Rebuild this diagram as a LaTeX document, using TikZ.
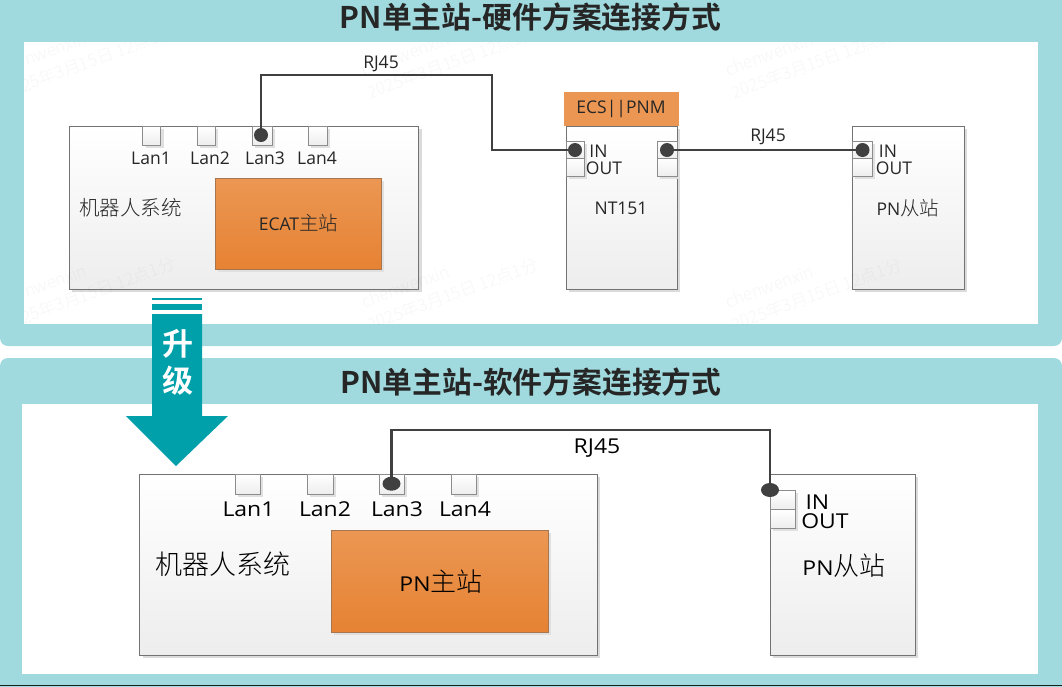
\documentclass[tikz,border=0pt]{standalone}
\usepackage{fontspec}
\setmainfont{Open Sans}
\newfontfamily\wide[FakeStretch=1.12]{Open Sans}
\newfontfamily\cjk{Noto Sans CJK SC Light}
\newfontfamily\cjkb{Noto Sans CJK SC Bold}
\usetikzlibrary{shadows,shapes.geometric}
\definecolor{panel}{HTML}{A0DADE}
\definecolor{arrowc}{HTML}{00A0AB}
\definecolor{inkc}{HTML}{262626}
\definecolor{wirec}{HTML}{404040}
\definecolor{orange1}{HTML}{EB9753}
\definecolor{orange2}{HTML}{E68233}
\definecolor{orangeedge}{HTML}{A8764E}
\tikzset{
  panelbg/.style={fill=panel,draw=none},
  inner/.style={fill=white,draw=none},
  boxa/.style={draw=black!55,line width=0.9pt,top color=white,bottom color=black!7,anchor=north west,inner sep=0pt,
     drop shadow={shadow xshift=3pt,shadow yshift=-3pt,fill=black!14,opacity=1}},
  port/.style={boxa,draw=black!45,drop shadow={shadow xshift=3pt,shadow yshift=-3pt,fill=black!12,opacity=1}},
  orangebox/.style={draw=orangeedge,line width=0.9pt,top color=orange1,bottom color=orange2,anchor=north west,inner sep=0pt,
     drop shadow={shadow xshift=3pt,shadow yshift=-3pt,fill=black!12,opacity=1}},
  flatorange/.style={fill=orange1,draw=none,anchor=north west,inner sep=0pt},
  plug/.style={circle,fill=wirec,draw=none,minimum size=14pt,inner sep=0pt},
  plugb/.style={ellipse,fill=wirec,draw=none,minimum width=18pt,minimum height=14pt,inner sep=0pt},
  wire/.style={draw=wirec,line width=2.3pt},
  lbla/.style={text=inkc,font=\fontsize{17.5}{19}\selectfont,inner sep=0pt},
  lblb/.style={text=black,font=\fontsize{20.5}{22}\selectfont\wide,inner sep=0pt},
  ttl/.style={text=inkc,font=\fontsize{29.8}{33}\selectfont\cjkb,inner sep=0pt},
  wmk/.style={text=black,text opacity=0.035,font=\fontsize{17}{19}\selectfont\cjk,rotate=20,anchor=west,inner sep=0pt},
  upt/.style={text=white,font=\fontsize{31}{33}\selectfont\cjkb,inner sep=0pt},
}
\newcommand{\cjka}{\fontsize{19.5}{21}\selectfont\cjk}
\newcommand{\cjkc}{\fontsize{26}{28}\selectfont\cjk}
\begin{document}
\begin{tikzpicture}[x=1pt,y=-1pt]
\useasboundingbox (0,0) rectangle (1062,686);
\fill[white] (0,0) rectangle (1062,686);
% panels
\fill[panelbg,rounded corners=8pt] (0,-20) rectangle (1062,346);
\fill[panelbg,rounded corners=8pt] (0,358) rectangle (1062,700);
\fill[black!85!panel] (0,685) rectangle (1062,686);
\fill[inner] (24,42) rectangle (1038,324);
\fill[inner] (22,404) rectangle (1038,674);
% titles
\node[ttl] (t1) at (530.5,17.5) {PN单主站-硬件方案连接方式};
\node[ttl] (t2) at (531,382.5) {PN单主站-软件方案连接方式};
% ---------- top diagram
\node[boxa,minimum width=349.5pt,minimum height=163pt] (robotA) at (68.6,126) {};
\foreach \n/\xx/\w in {a1/142.3/18,a2/197/18,a3/252/20,a4/308/18.5}
  \node[port,minimum width=\w pt,minimum height=19pt] (\n) at (\xx,126) {};
\node[lbla] (la1) at (151,158) {Lan1};
\node[lbla] (la2) at (210,158) {Lan2};
\node[lbla] (la3) at (265,158) {Lan3};
\node[lbla] (la4) at (317,158) {Lan4};
\node[orangebox,minimum width=166.3pt,minimum height=91pt] (ecat) at (214.7,178) {};
\node[lbla] (ecatt) at (298.5,223) {ECAT{\cjka 主站}};
\node[lbla,font=\fontsize{20.5}{22}\selectfont\cjk] (roba) at (130.5,208) {机器人系统};

\node[boxa,minimum width=111pt,minimum height=163pt] (nt) at (565.6,126) {};
\node[flatorange,minimum width=114.6pt,minimum height=34pt] (ecs) at (564,92) {};
\node[lbla] (ecst) at (621,109) {ECS||PNM};
\node[port,minimum width=18pt,minimum height=17pt] (ntin) at (565.6,141) {};
\node[port,minimum width=18pt,minimum height=18pt] (ntout) at (565.6,158) {};
\node[port,minimum width=19.6pt,minimum height=17pt] (ntr1) at (657,141) {};
\node[port,minimum width=19.6pt,minimum height=18pt] (ntr2) at (657,158) {};
\node[lbla] (ntint) at (598.5,151) {IN};
\node[lbla] (ntoutt) at (604,168) {OUT};
\node[lbla] (ntt) at (621,208) {NT151};

\node[boxa,minimum width=111.7pt,minimum height=163pt] (slA) at (852,126) {};
\node[port,minimum width=20pt,minimum height=17pt] (slin) at (852,141) {};
\node[port,minimum width=20pt,minimum height=18pt] (slout) at (852,158) {};
\node[lbla] (slint) at (888,151) {IN};
\node[lbla] (sloutt) at (894,168) {OUT};
\node[lbla] (slt) at (908,208) {PN{\cjka 从站}};

\coordinate (b1) at (261,75);
\coordinate (b2) at (492,75);
\coordinate (b3) at (492,150);
\node[plug] (p1) at (261,135) {};
\node[plug] (p2) at (575,150) {};
\node[plug] (p3) at (667,150) {};
\node[plug] (p4) at (862.5,150) {};
\draw[wire] (p1.center) -- (b1) -- (b2) -- (b3) -- (p2.center);
\draw[wire] (p3.center) -- (p4.center);
\node[lbla] (rj1) at (381,64) {RJ45};
\node[lbla] (rj2) at (768,137) {RJ45};
% ---------- bottom diagram
\node[boxa,minimum width=457.2pt,minimum height=180.5pt] (robotB) at (139.3,474) {};
\foreach \n/\xx/\w in {b1p/235/25,b2p/307/25.5,b3p/379/25,b4p/451/25}
  \node[port,minimum width=\w pt,minimum height=19.5pt] (\n) at (\xx,474) {};
\node[lblb] (lb1) at (248.5,509) {Lan1};
\node[lblb] (lb2) at (325,509) {Lan2};
\node[lblb] (lb3) at (397,509) {Lan3};
\node[lblb] (lb4) at (465,509) {Lan4};
\node[orangebox,minimum width=217pt,minimum height=102pt] (pnm) at (330.6,530) {};
\node[lblb] (pnmt) at (441,582) {PN{\cjkc 主站}};
\node[lblb,font=\fontsize{27}{29}\selectfont\cjk] (robb) at (222.5,564) {机器人系统};

\node[boxa,minimum width=144.8pt,minimum height=181pt] (slB) at (770,474) {};
\node[port,minimum width=24.7pt,minimum height=19pt] (sbin) at (770,490) {};
\node[port,minimum width=24.7pt,minimum height=19pt] (sbout) at (770,509) {};
\node[lblb] (sbint) at (817.4,502) {IN};
\node[lblb] (sboutt) at (825,521) {OUT};
\node[lblb] (sbt) at (844,566) {PN{\cjkc 从站}};

\coordinate (c1) at (391.5,430);
\coordinate (c2) at (770,430);
\node[plugb] (q1) at (391.5,483.7) {};
\node[plugb] (q2) at (770,490) {};
\draw[wire,line width=2.6pt] (q1.center) -- (c1) -- (c2) -- (q2.center);
\node[lblb] (rj3) at (597,448) {RJ45};
% watermarks
\begin{scope}
\clip (24,42) rectangle (1038,324);
\foreach \dy in {0,232}{
  \node[wmk] at (25,60+\dy) {nwenxin};
  \node[wmk] at (22,86+\dy) {25年3月15日 12点1分};
  \foreach \dx in {0,364}{
    \node[wmk] at (362+\dx,70+\dy) {chenwenxin};
    \node[wmk] at (368+\dx,93+\dy) {2025年3月15日 12点1分};
  }
}
\end{scope}
% ---------- upgrade arrow
\fill[arrowc] (152,298) rectangle (202,300);
\fill[arrowc] (152,304) rectangle (202,310);
\fill[arrowc] (152,314) -- (202,314) -- (202,416) -- (228,416) -- (176,466) -- (126,416) -- (152,416) -- cycle;
\node[upt] (up1) at (178,344) {升};
\node[upt] (up2) at (178,381) {级};
\end{tikzpicture}
\end{document}
